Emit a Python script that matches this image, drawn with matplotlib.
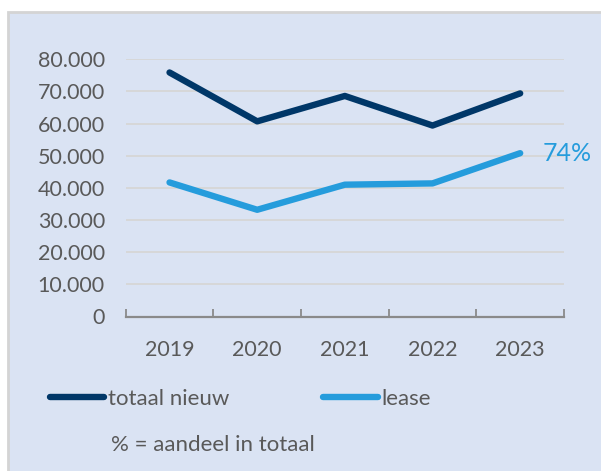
import matplotlib
matplotlib.use('Agg')
import matplotlib.pyplot as plt
from matplotlib.patches import Rectangle

plt.rcParams['font.family'] = ['Lato', 'DejaVu Sans']

# Data
jaren = ['2019', '2020', '2021', '2022', '2023']
totaal_nieuw = [75900, 60700, 68600, 59400, 69400]
lease = [41700, 33200, 41000, 41400, 50800]
aandeel_label = '74%'

donker = '#003768'
licht = '#259cdc'
grijs_tekst = '#595959'

W, H = 601, 471
fig = plt.figure(figsize=(W / 100, H / 100), dpi=100)
fig.patch.set_facecolor('white')

# lichtblauw paneel met grijze rand links/boven
fig.add_artist(Rectangle((8 / W, -0.1), 1.2, (H - 12) / H + 0.1,
                         transform=fig.transFigure, facecolor='#dae3f3',
                         edgecolor='#d4d4d4', lw=2, zorder=0))

ax = fig.add_axes([125.7 / W, (H - 316.5) / H, (564 - 125.7) / W, (316.5 - 59.3) / H])
ax.set_facecolor('none')

x = range(len(jaren))
l1, = ax.plot(x, totaal_nieuw, color=donker, lw=4.6, solid_capstyle='round',
              solid_joinstyle='round', label='totaal nieuw', zorder=3)
l2, = ax.plot(x, lease, color=licht, lw=4.6, solid_capstyle='round',
              solid_joinstyle='round', label='lease', zorder=3)

ax.annotate(aandeel_label, xy=(4, lease[-1]), xytext=(16, 0), textcoords='offset points',
            va='center', ha='left', color=licht, fontsize=18)

ax.set_xlim(-0.5, 4.5)
ax.set_ylim(0, 80000)
yt = list(range(0, 80001, 10000))
ax.set_yticks(yt)
ax.set_yticklabels([f'{v:,}'.replace(',', '.') for v in yt], fontsize=15.5, color=grijs_tekst)
ax.tick_params(axis='y', length=0, pad=15)
ax.yaxis.grid(True, color='#d6d6d6', lw=1.3)
ax.set_axisbelow(True)

ax.set_xticks([i - 0.5 for i in range(len(jaren) + 1)])
ax.set_xticklabels([])
ax.set_xticks(list(x), minor=True)
ax.set_xticklabels(jaren, minor=True, fontsize=15.5, color=grijs_tekst)
ax.tick_params(axis='x', which='major', direction='in', length=6, width=1.3, color='#8a8a8a')
ax.tick_params(axis='x', which='minor', length=0, pad=17)

for s in ['top', 'right', 'left']:
    ax.spines[s].set_visible(False)
ax.spines['bottom'].set_color('#8a8a8a')
ax.spines['bottom'].set_linewidth(1.6)

fig.legend(handles=[l1, l2], loc='center left', bbox_to_anchor=(50 / W, 1 - 399 / H),
           ncol=2, frameon=False, fontsize=16, handlelength=2.45, handletextpad=0.18,
           columnspacing=4.2, borderpad=0, borderaxespad=0, labelcolor=grijs_tekst)

fig.text(111 / W, 1 - 445 / H, '% = aandeel in totaal', fontsize=16, color=grijs_tekst,
         ha='left', va='center')

fig.savefig('out.png', dpi=100)
